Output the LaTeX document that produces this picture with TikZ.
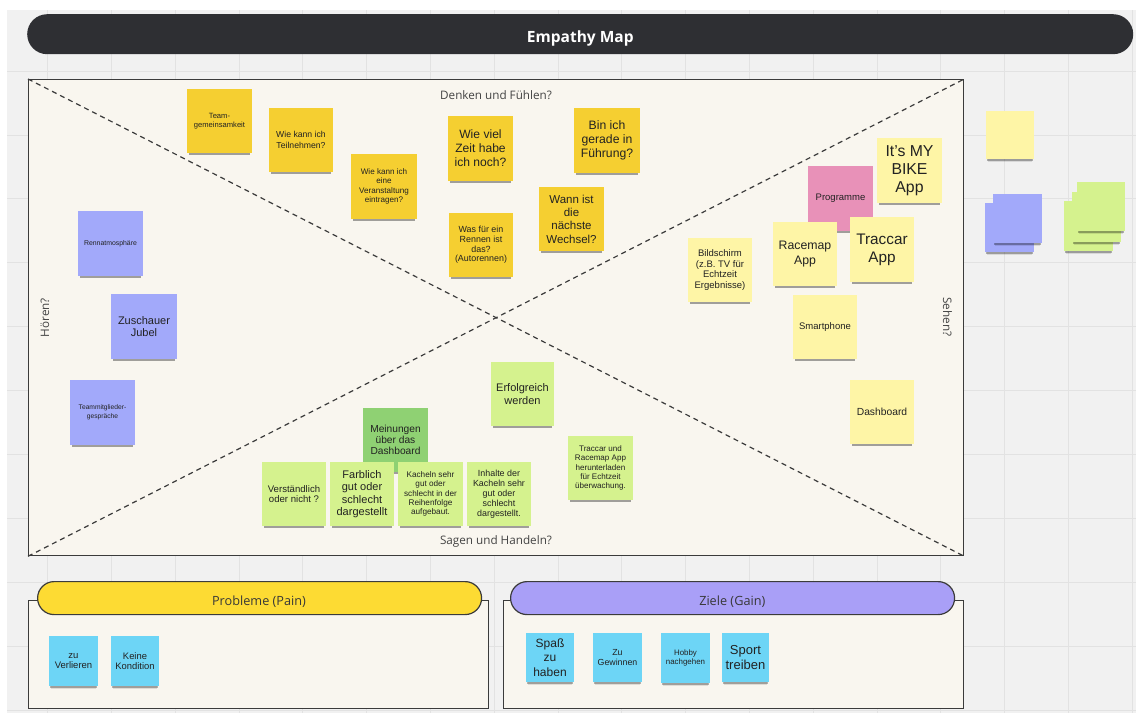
\documentclass[tikz,border=0pt]{standalone}
\usepackage{fontspec}
\setmainfont{Liberation Sans}
\newfontfamily\osans{Open Sans}
\usetikzlibrary{shadows}

\definecolor{boardgrey}{HTML}{F1F1F1}
\definecolor{gridline}{HTML}{E2E2E2}
\definecolor{panelfill}{HTML}{F9F6EF}
\definecolor{frame}{HTML}{3B3B3B}
\definecolor{titlebar}{HTML}{2E2F33}
\definecolor{painyellow}{HTML}{FDDB33}
\definecolor{gainpurple}{HTML}{A99FF7}
\definecolor{notedark}{HTML}{F5CF31}
\definecolor{notelight}{HTML}{FEF5A6}
\definecolor{notepink}{HTML}{E891B8}
\definecolor{noteblue}{HTML}{A2A9FA}
\definecolor{notelime}{HTML}{D5F28E}
\definecolor{notegreen}{HTML}{8FD173}
\definecolor{notecyan}{HTML}{6DD5F6}
\definecolor{ink}{HTML}{222222}
\definecolor{labelgrey}{HTML}{444444}

\newcommand\fs[2]{\fontsize{#1}{#2}\selectfont}
% \note{name}{x1}{y1}{x2}{y2}{style}{text}
\newcommand\note[7]{%
  \node[#6, minimum width={#4-#2}, minimum height={#5-#3}]
    (#1) at ({(#2+#4)/2},{(#3+#5)/2}) {#7};}

\tikzset{
  sticky/.style={
    general shadow={shadow yshift=-5pt, shadow scale=0.93, fill=black, opacity=0.10},
    general shadow={shadow yshift=-3.5pt, shadow scale=0.95, fill=black, opacity=0.28},
    inner sep=0pt, align=center, text=ink},
  sdark/.style={sticky, fill=notedark},
  slight/.style={sticky, fill=notelight},
  spink/.style={sticky, fill=notepink},
  sblue/.style={sticky, fill=noteblue},
  slime/.style={sticky, fill=notelime},
  sgreen/.style={sticky, fill=notegreen},
  scyan/.style={sticky, fill=notecyan},
  gridrule/.style={draw=gridline, line width=0.8pt},
  panelbox/.style={draw=frame, fill=panelfill, line width=1.3pt, inner sep=0pt},
  pill/.style={draw=frame, line width=1.2pt, rounded corners=16.5pt, inner sep=0pt},
  diag/.style={draw=frame, line width=1.2pt, dash pattern=on 5pt off 4pt},
  quadlabel/.style={font=\osans\fs{11.7}{14}, text=labelgrey, inner sep=0pt},
  pilllabel/.style={font=\osans\fs{12.7}{15}, text=ink!90, inner sep=0pt},
}

\begin{document}
\begin{tikzpicture}[x=1pt, y=-1pt]
\useasboundingbox (0,0) rectangle (1136,713);

% board background with its grid
\fill[boardgrey] (7,10) rectangle (1136,713);
\foreach \gx in {0,...,17}
  \draw[gridrule] ({47.5+63.8*\gx},10) -- ({47.5+63.8*\gx},713);
\foreach \gy in {0,...,10}
  \draw[gridrule] (7,{71+63.9*\gy}) -- (1136,{71+63.9*\gy});

% title bar
\node[fill=titlebar, rounded corners=20pt, minimum width=1106pt, minimum height=40pt,
      inner sep=0pt, anchor=north west] (title) at (27,14) {};
\node[font=\osans\bfseries\fs{15.5}{18}, text=white, anchor=base, inner sep=0pt]
  (titletext) at (580.3,42.5) {Empathy Map};

% empathy map panel with its two diagonals
\node[panelbox, minimum width=935pt, minimum height=476pt, anchor=north west] (panel) at (28,79) {};
\draw[diag] (panel.north west) -- (panel.south east);
\draw[diag] (panel.south west) -- (panel.north east);

\node[quadlabel, anchor=base] (think) at (496,99) {Denken und Fühlen?};
\node[quadlabel, anchor=base] (say) at (496,544) {Sagen und Handeln?};
\node[quadlabel, anchor=base, rotate=90] (hear) at (49,317.5) {Hören?};
\node[quadlabel, anchor=base, rotate=-90] (see) at (943,317) {Sehen?};

% pain and gain boxes
\node[panelbox, line width=1.2pt, minimum width=460pt, minimum height=108pt, anchor=north west] (painbox) at (28,600) {};
\node[pill, fill=painyellow, minimum width=444pt, minimum height=33pt, anchor=north west] (painhead) at (37,581) {};
\node[pilllabel, anchor=base] (paintext) at (259,605) {Probleme (Pain)};

\node[panelbox, line width=1.2pt, minimum width=460pt, minimum height=108pt, anchor=north west] (gainbox) at (503,600) {};
\node[pill, fill=gainpurple, minimum width=444pt, minimum height=33pt, anchor=north west] (gainhead) at (510,581) {};
\node[pilllabel, anchor=base] (gaintext) at (732.3,605) {Ziele (Gain)};

% thinking and feeling
\note{team}{187}{89}{252}{153}{sdark, font=\fs{7.6}{9.3}}{Team-\\gemeinsamkeit}
\note{join}{269}{108}{333}{172}{sdark, font=\fs{8.65}{11}}{Wie kann ich\\Teilnehmen?}
\note{enter}{351}{154}{417}{219}{sdark, font=\fs{8.1}{9.5}}{Wie kann ich\\eine\\Veranstaltung\\eintragen?}
\note{time}{448}{116}{513}{181}{sdark, font=\fs{12.1}{14}}{Wie viel\\Zeit habe\\ich noch?}
\note{lead}{574}{108}{640}{173}{sdark, font=\fs{12.2}{14}}{Bin ich\\gerade in\\Führung?}
\note{change}{539}{187}{604}{251}{sdark, font=\fs{11.5}{13.3}}{Wann ist\\die\\nächste\\Wechsel?}
\note{race}{449}{213}{513}{277}{sdark, font=\fs{8.9}{9.7}}{Was für ein\\Rennen ist\\das?\\(Autorennen)}

% seeing
\note{prog}{808}{166}{873}{231}{spink, font=\fs{9.5}{11}}{Programme}
\note{mybike}{877}{138}{942}{203}{slight, font=\fs{15.8}{17.7}}{It's MY\\BIKE\\App}
\note{racemap}{773}{222}{837}{286}{slight, font=\fs{12.3}{14.3}}{Racemap\\App}
\note{traccar}{850}{217}{914}{282}{slight, font=\fs{15.3}{17.7}}{Traccar\\App}
\note{screen}{688}{238}{752}{302}{slight, font=\fs{9.5}{10.7}}{Bildschirm\\(z.B. TV für\\Echtzeit\\Ergebnisse)}
\note{phone}{793}{295}{857}{359}{slight, font=\fs{9.5}{11}}{Smartphone}
\note{dash}{850}{380}{914}{444}{slight, font=\fs{10.3}{12}}{Dashboard}

% hearing
\note{mood}{78}{211}{143}{276}{sblue, font=\fs{6.9}{8.5}}{Rennatmosphäre}
\note{cheer}{111}{294}{177}{359}{sblue, font=\fs{11}{11.7}}{Zuschauer\\Jubel}
\note{talk}{70}{380}{135}{445}{sblue, font=\fs{6.7}{8.7}}{Teammitglieder-\\gespräche}

% saying and doing
\note{success}{491}{362}{554}{426}{slime, font=\fs{11}{13.3}}{Erfolgreich\\werden}
\note{opinion}{363}{408}{428}{472}{sgreen, font=\fs{10.2}{11.3}}{Meinungen\\über das\\Dashboard}
\note{clear}{262}{462}{326}{526}{slime, font=\fs{9.6}{10.7}}{Verständlich\\oder nicht ?}
\note{colour}{330}{462}{394}{526}{slime, font=\fs{11}{12.3}}{Farblich\\gut oder\\schlecht\\dargestellt}
\note{tiles}{398}{462}{463}{526}{slime, font=\fs{8.2}{9.25}}{Kacheln sehr\\gut oder\\schlecht in der\\Reihenfolge\\aufgebaut.}
\note{content}{467}{462}{531}{526}{slime, font=\fs{8.9}{10}}{Inhalte der\\Kacheln sehr\\gut oder\\schlecht\\dargestellt.}
\note{install}{568}{436}{633}{500}{slime, font=\fs{8.05}{9.3}}{Traccar und\\Racemap App\\herunterladen\\für Echtzeit\\überwachung.}

% pains
\note{lose}{49}{636}{98}{686}{scyan, font=\fs{9.5}{10.3}}{zu\\Verlieren}
\note{fitness}{111}{636}{159}{686}{scyan, font=\fs{9.4}{10.3}}{Keine\\Kondition}

% gains
\note{fun}{526}{633}{574}{682}{scyan, font=\fs{12}{14.3}}{Spaß\\zu\\haben}
\note{win}{593}{633}{642}{682}{scyan, font=\fs{8.8}{10.3}}{Zu\\Gewinnen}
\note{hobby}{661}{633}{710}{683}{scyan, font=\fs{7.9}{8.3}}{Hobby\\nachgehen}
\note{sport}{722}{633}{769}{682}{scyan, font=\fs{13}{15}}{Sport\\treiben}

% unused notes beside the map
\note{spareY}{986}{111}{1034}{159}{slight}{}
\note{spareB1}{985}{203}{1034}{252}{sblue}{}
\note{spareB2}{993}{194}{1042}{243}{sblue}{}
\note{spareG1}{1064}{201}{1113}{251}{slime}{}
\note{spareG2}{1072}{192}{1121}{242}{slime}{}
\note{spareG3}{1077}{182}{1125}{231}{slime}{}
\end{tikzpicture}
\end{document}
